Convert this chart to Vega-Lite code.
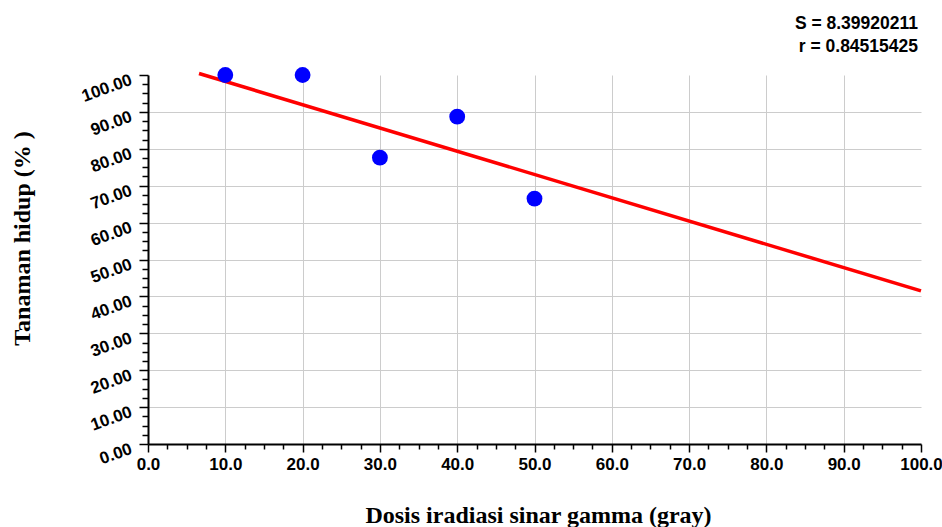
{
  "$schema": "https://vega.github.io/schema/vega-lite/v6.json",
  "width": 773,
  "height": 369,
  "autosize": "none",
  "padding": {"left": 148, "top": 75, "right": 21, "bottom": 83},
  "background": "white",
  "config": {"view": {"stroke": null}},
  "title": {
    "text": ["S = 8.39920211", "r = 0.84515425"],
    "anchor": "end",
    "frame": "group",
    "font": "Liberation Sans",
    "fontSize": 17.5,
    "fontWeight": "bold",
    "color": "black",
    "lineHeight": 23,
    "offset": 11,
    "dx": -3
  },
  "datasets": {
    "obs": [
      {"dose": 10, "survival": 100},
      {"dose": 20, "survival": 100},
      {"dose": 30, "survival": 77.6},
      {"dose": 40, "survival": 88.7},
      {"dose": 50, "survival": 66.5}
    ],
    "fit": [
      {"dose": 6.6, "survival": 100.4},
      {"dose": 100, "survival": 41.5}
    ]
  },
  "encoding": {
    "x": {
      "field": "dose",
      "type": "quantitative",
      "scale": {"domain": [0, 100], "nice": false, "zero": false},
      "axis": {
        "values": [0, 2.5, 5, 7.5, 10, 12.5, 15, 17.5, 20, 22.5, 25, 27.5, 30, 32.5, 35, 37.5, 40, 42.5, 45, 47.5, 50, 52.5, 55, 57.5, 60, 62.5, 65, 67.5, 70, 72.5, 75, 77.5, 80, 82.5, 85, 87.5, 90, 92.5, 95, 97.5, 100],
        "title": "Dosis iradiasi sinar gamma (gray)",
        "labelExpr": "datum.value % 10 === 0 ? format(datum.value, '.1f') : ''",
        "labelFont": "Liberation Sans",
        "labelFontSize": 17,
        "labelFontWeight": "bold",
        "labelColor": "black",
        "labelPadding": 4,
        "labelOverlap": false,
        "labelFlush": false,
        "tickSize": {"condition": {"test": "datum.value % 10 === 0", "value": 8}, "value": 5},
        "tickColor": "black",
        "tickWidth": 1.5,
        "domainColor": "black",
        "domainWidth": 2,
        "grid": true,
        "gridColor": "#cccccc",
        "gridWidth": 1,
        "gridOpacity": {"condition": {"test": "datum.value % 10 === 0 && datum.value > 0 && datum.value < 100", "value": 1}, "value": 0},
        "titleFont": "Liberation Serif",
        "titleFontSize": 24,
        "titleFontWeight": "bold",
        "titleColor": "black",
        "titleBaseline": "alphabetic",
        "titleY": 78,
        "titleX": 390
      }
    },
    "y": {
      "field": "survival",
      "type": "quantitative",
      "scale": {"domain": [0, 100], "nice": false, "zero": false},
      "axis": {
        "values": [0, 2.5, 5, 7.5, 10, 12.5, 15, 17.5, 20, 22.5, 25, 27.5, 30, 32.5, 35, 37.5, 40, 42.5, 45, 47.5, 50, 52.5, 55, 57.5, 60, 62.5, 65, 67.5, 70, 72.5, 75, 77.5, 80, 82.5, 85, 87.5, 90, 92.5, 95, 97.5, 100],
        "title": "Tanaman hidup (% )",
        "labelExpr": "datum.value % 10 === 0 ? format(datum.value, '.2f') : ''",
        "labelFont": "Liberation Sans",
        "labelFontSize": 17,
        "labelFontWeight": "bold",
        "labelColor": "black",
        "labelAngle": -20,
        "labelAlign": "right",
        "labelBaseline": "middle",
        "labelOffset": 4,
        "labelPadding": 8,
        "labelOverlap": false,
        "labelFlush": false,
        "tickSize": {"condition": {"test": "datum.value % 10 === 0", "value": 9}, "value": 6},
        "tickColor": "black",
        "tickWidth": 1.5,
        "domainColor": "black",
        "domainWidth": 2,
        "grid": true,
        "gridColor": "#cccccc",
        "gridWidth": 1,
        "gridOpacity": {"condition": {"test": "datum.value % 10 === 0 && datum.value > 0 && datum.value < 100", "value": 1}, "value": 0},
        "titleFont": "Liberation Serif",
        "titleFontSize": 24,
        "titleFontWeight": "bold",
        "titleColor": "black",
        "titleAngle": -90,
        "titleBaseline": "middle",
        "titleAlign": "center",
        "titleX": -126,
        "titleY": 163
      }
    }
  },
  "layer": [
    {
      "data": {"name": "fit"},
      "mark": {"type": "line", "color": "#ff0000", "strokeWidth": 3.5}
    },
    {
      "data": {"name": "obs"},
      "mark": {"type": "circle", "color": "#0000ff", "size": 250, "opacity": 1}
    }
  ]
}
